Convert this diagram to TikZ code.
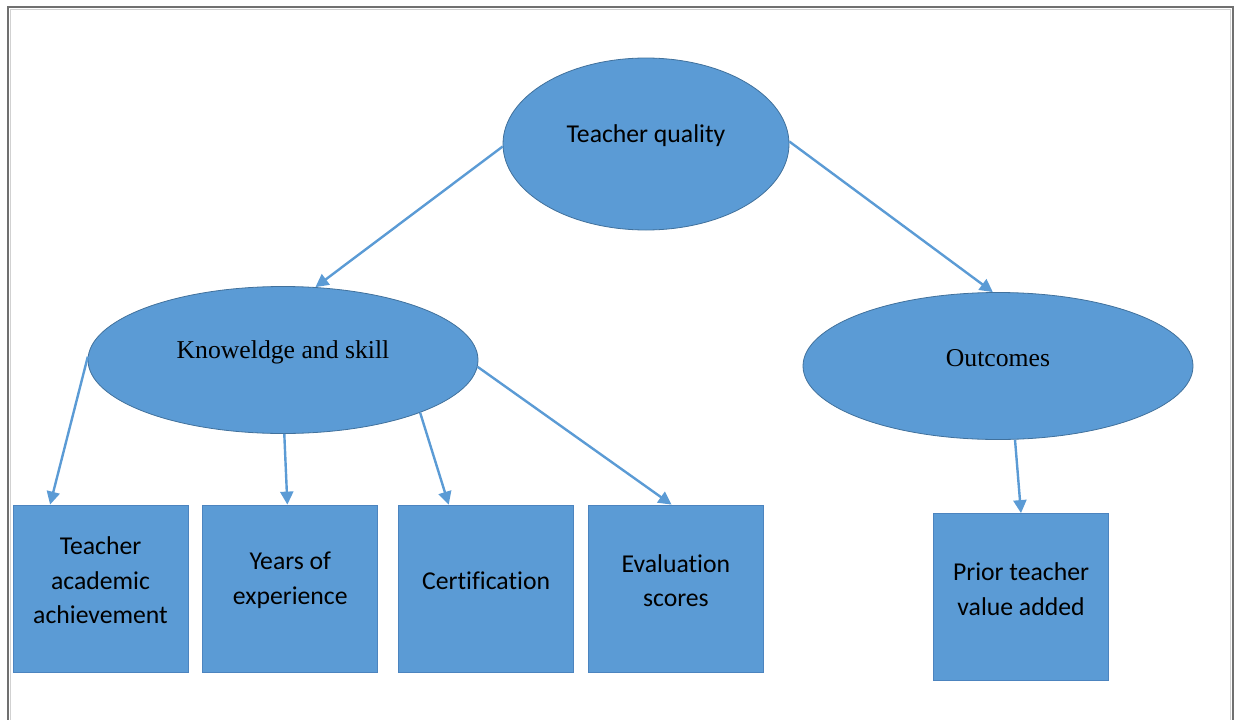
\documentclass[tikz,border=0pt]{standalone}
\usepackage{fontspec}
\setmainfont{Liberation Serif}
\newfontfamily\calib[Ligatures=NoCommon]{Carlito}
\usepackage{tikz}
\usetikzlibrary{positioning,arrows.meta,shapes.geometric}

\definecolor{fillblue}{HTML}{5B9BD5}
\definecolor{ovalline}{HTML}{41719C}
\definecolor{boxline}{HTML}{4C84BF}
\definecolor{frameline}{HTML}{707070}

\begin{document}
\begin{tikzpicture}[
    x=1pt, y=-1pt,
    txt/.style={align=center, yshift=8pt, text=black, inner sep=0pt},
    oval/.style={ellipse, draw=ovalline, fill=fillblue, line width=0.8pt, inner sep=0pt},
    ovaltext/.style={label={[txt, font=\fontsize{25.7}{31}\selectfont]center:#1}},
    box/.style={draw=boxline, fill=fillblue, line width=0.8pt, minimum width=175pt, minimum height=167pt, inner sep=0pt,
        label={[txt, font=\calib\fontsize{25.7}{34.5}\selectfont]center:#1}},
    arrow/.style={-{Triangle[length=13pt, width=13pt]}, draw=fillblue, line width=2.4pt}
]
\useasboundingbox (0,0) rectangle (1234,720);
% page frame
\draw[frameline, line width=2pt] (8,720) -- (8,7) -- (1233,7) -- (1233,720);
\draw[black!18, line width=1pt] (10.5,720) -- (10.5,9.5) -- (1230.5,9.5) -- (1230.5,720);

% ovals
\node[oval, minimum width=286pt, minimum height=172pt,
    label={[txt, font=\calib\fontsize{25.7}{31}\selectfont]center:Teacher quality}] (TQ) at (646,144) {};
\node[oval, minimum width=390pt, minimum height=147pt, ovaltext={Knoweldge and skill}] (KS) at (283,360) {};
\node[oval, minimum width=390pt, minimum height=147pt, ovaltext={Outcomes}] (OC) at (998,366) {};

% boxes
\node[box={Teacher\\academic\\achievement}] (B1) at (100.5,588.5) {};
\node[box={Years of\\experience}, right=14pt of B1] (B2) {};
\node[box={Certification}, right=20pt of B2] (B3) {};
\node[box={Evaluation\\scores}, right=14pt of B3] (B4) {};
\node[box={Prior teacher\\value added}] (B5) at (1021,597) {};

% connectors
\draw[arrow] (TQ.181) -- (KS.66);
\draw[arrow] (TQ.1.5) -- (OC.94);
\draw[arrow] (KS.179.5) -- (B1.121);
\draw[arrow] (KS.271) -- (B2.92);
\draw[arrow] (KS.339) -- (B3.114);
\draw[arrow] (KS.358.5) -- (B4.93);
\draw[arrow] (OC.283.5) -- (B5.north);
\end{tikzpicture}
\end{document}
